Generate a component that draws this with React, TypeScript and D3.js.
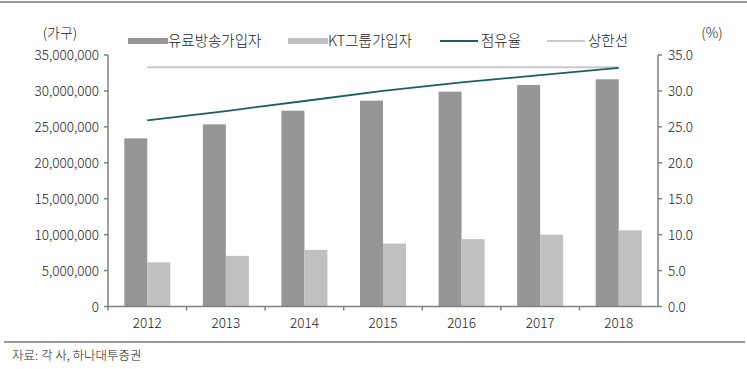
import React from 'react';
import * as d3 from 'd3';

const years = ['2012', '2013', '2014', '2015', '2016', '2017', '2018'];
const payTvSubs = [23400000, 25350000, 27250000, 28650000, 29900000, 30830000, 31620000];
const ktGroupSubs = [6150000, 7050000, 7880000, 8760000, 9370000, 10000000, 10600000];
const shareRate = [25.9, 27.2, 28.6, 30.0, 31.2, 32.2, 33.2];
const capRate = [33.3, 33.3, 33.3, 33.3, 33.3, 33.3, 33.3];
const leftTicks = [0, 5000000, 10000000, 15000000, 20000000, 25000000, 30000000, 35000000];
const rightTicks = [0, 5, 10, 15, 20, 25, 30, 35];
const legendNames = ['유료방송가입자', 'KT그룹가입자', '점유율', '상한선'];

const font = '"Noto Sans CJK KR", "Noto Sans", sans-serif';

const App = () => {
    const width = 747;
    const height = 369;
    const left = 108;
    const right = 658;
    const top = 55;
    const bottom = 306.5;

    const x = d3.scaleBand().domain(years).range([left, right]);
    const yL = d3.scaleLinear().domain([0, 35000000]).range([bottom, top]);
    const yR = d3.scaleLinear().domain([0, 35]).range([bottom, top]);
    const barW = 23;
    const cx = (d: string) => (x(d) as number) + x.bandwidth() / 2;

    const shareLine = d3.line<number>().x((d, i) => cx(years[i])).y(d => yR(d));
    const fmtL = d3.format(',');
    const fmtR = d3.format('.1f');

    const axisColor = '#808080';
    const dark = '#969696';
    const light = '#c0c0c0';
    const teal = '#1d5f5c';
    const cap = '#c8c8c8';
    const txt = '#222';

    const legend = [
        { x: 128, name: legendNames[0], type: 'rect', color: dark },
        { x: 288, name: legendNames[1], type: 'rect', color: light },
        { x: 440, name: legendNames[2], type: 'line', color: teal },
        { x: 547, name: legendNames[3], type: 'line', color: cap },
    ];

    return (
        <svg width={width} height={height} style={{ position: 'absolute', left: 0, top: 0 }} fontFamily={font} fontWeight={300}>
            <line x1={0} x2={width} y1={2} y2={2} stroke="#999" strokeWidth={2} />

            {/* legend */}
            <text x={60} y={38} fontSize={14} textAnchor="middle" fill={txt}>(가구)</text>
            <text x={712} y={38} fontSize={14} textAnchor="middle" fill={txt}>(%)</text>
            {legend.map(l => (
                <g key={l.name}>
                    {l.type === 'rect'
                        ? <rect x={l.x} y={38} width={40} height={6} fill={l.color} />
                        : <line x1={l.x} x2={l.x + 38} y1={41} y2={41} stroke={l.color} strokeWidth={2} />}
                    <text x={l.x + (l.type === 'rect' ? 40 : 41)} y={46} fontSize={14.5} fill={txt}>{l.name}</text>
                </g>
            ))}

            {/* bars */}
            {years.map((yr, i) => (
                <g key={yr}>
                    <rect x={cx(yr) - barW} y={yL(payTvSubs[i])} width={barW} height={bottom - yL(payTvSubs[i])} fill={dark} />
                    <rect x={cx(yr)} y={yL(ktGroupSubs[i])} width={barW} height={bottom - yL(ktGroupSubs[i])} fill={light} />
                </g>
            ))}

            {/* lines */}
            <line x1={cx(years[0])} x2={cx(years[years.length - 1])} y1={yR(capRate[0])} y2={yR(capRate[capRate.length - 1])} stroke={cap} strokeWidth={2} />
            <path d={shareLine(shareRate) || ''} fill="none" stroke={teal} strokeWidth={1.8} />

            {/* left axis */}
            <line x1={left} x2={left} y1={top} y2={bottom} stroke={axisColor} strokeWidth={1.5} />
            {leftTicks.map(t => (
                <g key={t}>
                    <line x1={left - 4} x2={left} y1={yL(t)} y2={yL(t)} stroke={axisColor} strokeWidth={1.5} />
                    <text x={left - 9} y={yL(t) + 5} fontSize={13.5} textAnchor="end" fill={txt}>{fmtL(t)}</text>
                </g>
            ))}

            {/* right axis */}
            <line x1={right} x2={right} y1={top} y2={bottom} stroke={axisColor} strokeWidth={1.5} />
            {rightTicks.map(t => (
                <g key={t}>
                    <line x1={right} x2={right + 4} y1={yR(t)} y2={yR(t)} stroke={axisColor} strokeWidth={1.5} />
                    <text x={right + 10} y={yR(t) + 5} fontSize={13.5} fill={txt}>{fmtR(t)}</text>
                </g>
            ))}

            {/* x axis */}
            <line x1={left} x2={right} y1={bottom} y2={bottom} stroke={axisColor} strokeWidth={1.5} />
            {years.map(yr => (
                <g key={yr}>
                    <line x1={x(yr) as number} x2={x(yr) as number} y1={bottom} y2={bottom + 4} stroke={axisColor} strokeWidth={1.5} />
                    <text x={cx(yr)} y={328} fontSize={13.5} textAnchor="middle" fill={txt}>{yr}</text>
                </g>
            ))}

            <line x1={4} x2={745} y1={342} y2={342} stroke="#999" strokeWidth={2} />
            <text x={12} y={360} fontSize={12.5} fill={txt}>자료: 각 사, 하나대투증권</text>
        </svg>
    );
};

export default App;
